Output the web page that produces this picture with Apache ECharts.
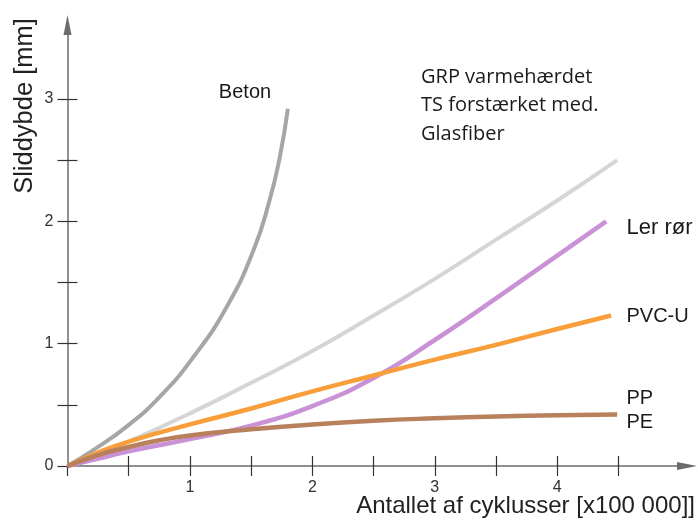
<!DOCTYPE html>
<html>
<head>
<meta charset="utf-8">
<script src="https://cdn.jsdelivr.net/npm/echarts@6/dist/echarts.min.js"></script>
<style>html,body{margin:0;padding:0;background:#fff}#c{width:699px;height:520px}</style>
</head>
<body>
<div id="c"></div>
<script>
// ---- data (x in 100 000 cycles, y in mm) ----
const betonX = [0, 0.21, 0.48, 0.755, 1.03, 1.30, 1.52, 1.65, 1.735, 1.80];
const betonY = [0, 0.13, 0.32, 0.567, 0.893, 1.30, 1.766, 2.17, 2.53, 2.92];
const grpX = [0, 0.25, 0.5, 1, 1.5, 2, 2.5, 3, 3.5, 4, 4.49];
const grpY = [0, 0.1, 0.2, 0.43, 0.68, 0.94, 1.23, 1.53, 1.85, 2.17, 2.50];
const lerX = [0, 0.25, 0.5, 1, 1.5, 2, 2.5, 3, 3.5, 4, 4.4];
const lerY = [0, 0.06, 0.12, 0.22, 0.33, 0.49, 0.72, 1.03, 1.37, 1.72, 2.0];
const pvcX = [0, 0.25, 0.5, 1, 1.5, 2, 2.5, 3, 3.5, 4, 4.44];
const pvcY = [0, 0.11, 0.2, 0.34, 0.47, 0.61, 0.74, 0.87, 0.99, 1.12, 1.23];
const ppX = [0, 0.25, 0.5, 0.75, 1, 1.5, 2, 2.5, 3, 3.5, 4, 4.49];
const ppY = [0, 0.09, 0.155, 0.21, 0.25, 0.30, 0.34, 0.37, 0.39, 0.405, 0.415, 0.42];

const xTicks = [0, 0.5, 1, 1.5, 2, 2.5, 3, 3.5, 4, 4.5];
const xLabels = [1, 2, 3, 4];
const yTicks = [0, 0.5, 1, 1.5, 2, 2.5, 3];
const yLabels = [0, 1, 2, 3];

const xName = 'Antallet af cyklusser [x100 000]]';
const yName = 'Sliddybde [mm]';
const labelBeton = 'Beton';
const labelGrp = 'GRP varmehærdet\nTS forstærket med.\nGlasfiber';
const labelLer = 'Ler rør';
const labelPvc = 'PVC-U';
const labelPp = 'PP';
const labelPe = 'PE';

const zip = (xs, ys) => xs.map((x, i) => [x, ys[i]]);

const chart = echarts.init(document.getElementById('c'), null, {renderer: 'canvas'});
const XMAX = 5.06, YMAX = 3.605;
const axisColor = '#6b6b6b';
const tickColor = '#333';
const sans = 'Liberation Sans, Arial, sans-serif';

function line(name, data, color, width) {
  return {
    name, type: 'line', data, smooth: 0.5, symbol: 'none',
    xAxisIndex: 0, yAxisIndex: 0,
    lineStyle: {color, width, cap: 'butt'}, animation: false
  };
}

chart.setOption({
  animation: false,
  backgroundColor: '#fff',
  grid: {left: 67.5, right: 12, top: 25, bottom: 54},
  xAxis: [{
    type: 'value', min: 0, max: XMAX, position: 'bottom',
    axisLine: {show: true, onZero: false, symbol: ['none', 'triangle'], symbolSize: [8, 20],
      lineStyle: {color: axisColor, width: 1.5}},
    axisTick: {show: true, inside: false, length: 10, customValues: xTicks,
      lineStyle: {color: tickColor, width: 1.2}},
    axisLabel: {show: true, customValues: xLabels, margin: 14, fontSize: 16,
      color: '#333', fontFamily: sans},
    splitLine: {show: false}
  }, {
    type: 'value', min: 0, max: XMAX, position: 'bottom',
    axisLine: {show: false, onZero: false},
    axisTick: {show: true, inside: true, length: 10, customValues: xTicks.slice(1),
      lineStyle: {color: tickColor, width: 1.2}},
    axisLabel: {show: false},
    splitLine: {show: false}
  }],
  yAxis: [{
    type: 'value', min: 0, max: YMAX, position: 'left',
    axisLine: {show: true, onZero: false, symbol: ['none', 'triangle'], symbolSize: [8, 20],
      lineStyle: {color: axisColor, width: 1.5}},
    axisTick: {show: true, inside: false, length: 10, customValues: yTicks,
      lineStyle: {color: tickColor, width: 1.2}},
    axisLabel: {show: true, customValues: yLabels, margin: 14, fontSize: 16,
      color: '#333', fontFamily: sans},
    splitLine: {show: false}
  }, {
    type: 'value', min: 0, max: YMAX, position: 'left',
    axisLine: {show: false, onZero: false},
    axisTick: {show: true, inside: true, length: 10, customValues: yTicks.slice(1),
      lineStyle: {color: tickColor, width: 1.2}},
    axisLabel: {show: false},
    splitLine: {show: false}
  }],
  series: [
    line('GRP', zip(grpX, grpY), '#d5d5d5', 4),
    line('Beton', zip(betonX, betonY), '#a6a6a6', 4),
    line('Ler rør', zip(lerX, lerY), '#c991d6', 4.5),
    line('PVC-U', zip(pvcX, pvcY), '#f89e3b', 4.5),
    line('PP/PE', zip(ppX, ppY), '#b9805c', 4.5)
  ],
  graphic: [
    {type: 'text', x: 25, y: 106, rotation: Math.PI / 2,
      style: {text: yName, font: '25.5px ' + sans, fill: '#222', textAlign: 'center', textVerticalAlign: 'middle'}},
    {type: 'text', x: 695, y: 506,
      style: {text: xName, font: '24px ' + sans, fill: '#222', textAlign: 'right', textVerticalAlign: 'middle'}},
    {type: 'text', x: 245, y: 92.5,
      style: {text: labelBeton, font: '20px ' + sans, fill: '#1a1a1a', textAlign: 'center', textVerticalAlign: 'middle'}},
    {type: 'text', x: 421, y: 105.5,
      style: {text: labelGrp, font: '20px "Open Sans", sans-serif', lineHeight: 28.3, fill: '#1a1a1a', textAlign: 'left', textVerticalAlign: 'middle'}},
    {type: 'text', x: 626.5, y: 227.5,
      style: {text: labelLer, font: '22px ' + sans, fill: '#1a1a1a', textAlign: 'left', textVerticalAlign: 'middle'}},
    {type: 'text', x: 626.5, y: 316,
      style: {text: labelPvc, font: '20px ' + sans, fill: '#1a1a1a', textAlign: 'left', textVerticalAlign: 'middle'}},
    {type: 'text', x: 626.5, y: 398,
      style: {text: labelPp, font: '20px ' + sans, fill: '#1a1a1a', textAlign: 'left', textVerticalAlign: 'middle'}},
    {type: 'text', x: 626.5, y: 422.5,
      style: {text: labelPe, font: '20px ' + sans, fill: '#1a1a1a', textAlign: 'left', textVerticalAlign: 'middle'}}
  ]
});
</script>
</body>
</html>
